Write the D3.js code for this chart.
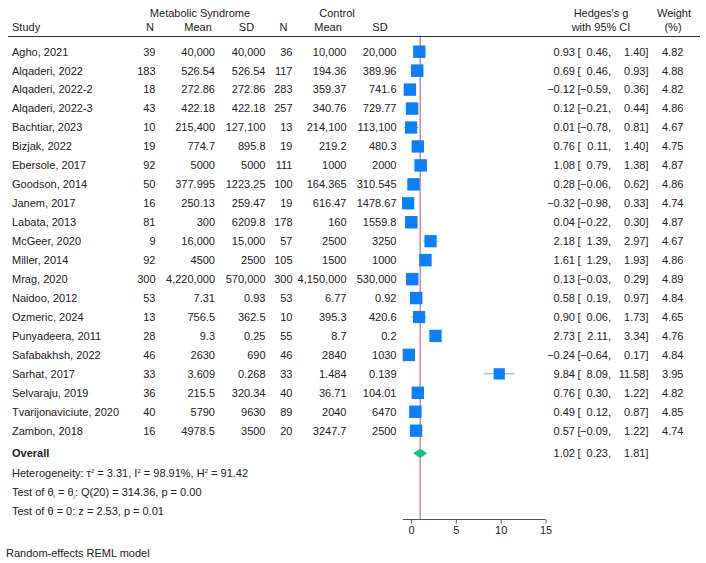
<!DOCTYPE html>
<html>
<head>
<meta charset="utf-8">
<script src="https://cdn.jsdelivr.net/npm/d3@7"></script>
<style>
  body { margin: 0; background: #fff; }
  svg text { font-family: "Liberation Sans", Arial, sans-serif; font-size: 11px; fill: #222; }
</style>
</head>
<body>
<div id="chart"></div>
<script>
// data
var studies = ["Agho, 2021", "Alqaderi, 2022", "Alqaderi, 2022-2", "Alqaderi, 2022-3", "Bachtiar, 2023",
  "Bizjak, 2022", "Ebersole, 2017", "Goodson, 2014", "Janem, 2017", "Labata, 2013", "McGeer, 2020",
  "Miller, 2014", "Mrag, 2020", "Naidoo, 2012", "Ozmeric, 2024", "Punyadeera, 2011", "Safabakhsh, 2022",
  "Sarhat, 2017", "Selvaraju, 2019", "Tvarijonaviciute, 2020", "Zambon, 2018"];
var msN = ["39", "183", "18", "43", "10", "19", "92", "50", "16", "81", "9", "92", "300", "53", "13", "28", "46", "33", "36", "40", "16"];
var msMean = ["40,000", "526.54", "272.86", "422.18", "215,400", "774.7", "5000", "377.995", "250.13", "300", "16,000",
  "4500", "4,220,000", "7.31", "756.5", "9.3", "2630", "3.609", "215.5", "5790", "4978.5"];
var msSD = ["40,000", "526.54", "272.86", "422.18", "127,100", "895.8", "5000", "1223.25", "259.47", "6209.8", "15,000",
  "2500", "570,000", "0.93", "362.5", "0.25", "690", "0.268", "320.34", "9630", "3500"];
var ctN = ["36", "117", "283", "257", "13", "19", "111", "100", "19", "178", "57", "105", "300", "53", "10", "55", "46", "33", "40", "89", "20"];
var ctMean = ["10,000", "194.36", "359.37", "340.76", "214,100", "219.2", "1000", "164.365", "616.47", "160", "2500",
  "1500", "4,150,000", "6.77", "395.3", "8.7", "2840", "1.484", "36.71", "2040", "3247.7"];
var ctSD = ["20,000", "389.96", "741.6", "729.77", "113,100", "480.3", "2000", "310.545", "1478.67", "1559.8", "3250",
  "1000", "530,000", "0.92", "420.6", "0.2", "1030", "0.139", "104.01", "6470", "2500"];
var hedges = [0.93, 0.69, -0.12, 0.12, 0.01, 0.76, 1.08, 0.28, -0.32, 0.04, 2.18, 1.61, 0.13, 0.58, 0.90, 2.73, -0.24, 9.84, 0.76, 0.49, 0.57];
var lower = [0.46, 0.46, -0.59, -0.21, -0.78, 0.11, 0.79, -0.06, -0.98, -0.22, 1.39, 1.29, -0.03, 0.19, 0.06, 2.11, -0.64, 8.09, 0.30, 0.12, -0.09];
var upper = [1.40, 0.93, 0.36, 0.44, 0.81, 1.40, 1.38, 0.62, 0.33, 0.30, 2.97, 1.93, 0.29, 0.97, 1.73, 3.34, 0.17, 11.58, 1.22, 0.87, 1.22];
var weights = [4.82, 4.88, 4.82, 4.86, 4.67, 4.75, 4.87, 4.86, 4.74, 4.87, 4.67, 4.86, 4.89, 4.84, 4.65, 4.76, 4.84, 3.95, 4.82, 4.85, 4.74];
var overall = {g: 1.02, lo: 0.23, hi: 1.81};
var xTicks = [0, 5, 10, 15];

var width = 706, height = 563;
var fmt = d3.format(".2f");
function num(v){ return fmt(v).replace("-", "\u2212"); }

var svg = d3.select("#chart").append("svg")
    .attr("width", width)
    .attr("height", height);

var x = d3.scaleLinear().domain([0, 15]).range([411, 545.5]);
var y = d3.scaleLinear().domain([0, studies.length - 1]).range([51.7, 430.7]);
var yOverall = 453.3;
var axisY = 519.5;
var sizeScale = d3.scaleSqrt().domain([0, d3.max(weights)]).range([0, 12.5]);

// header
var head = svg.append("g");
head.append("text").attr("x", 200).attr("y", 13).attr("dy", ".35em").attr("text-anchor", "middle").text("Metabolic Syndrome");
head.append("text").attr("x", 337).attr("y", 13).attr("dy", ".35em").attr("text-anchor", "middle").text("Control");
head.append("text").attr("x", 601).attr("y", 13).attr("dy", ".35em").attr("text-anchor", "middle").text("Hedges's g");
head.append("text").attr("x", 674).attr("y", 13).attr("dy", ".35em").attr("text-anchor", "middle").text("Weight");
head.append("text").attr("x", 12).attr("y", 27).attr("dy", ".35em").text("Study");
var colHeads = [["N", 150], ["Mean", 198], ["SD", 246.5], ["N", 283.5], ["Mean", 328], ["SD", 380],
  ["with 95% CI", 601], ["(%)", 673]];
head.selectAll("text.col")
    .data(colHeads)
    .enter()
    .append("text")
    .attr("class", "col")
    .attr("x", d => d[1]).attr("y", 27).attr("dy", ".35em")
    .attr("text-anchor", "middle")
    .text(d => d[0]);
svg.append("line")
    .attr("x1", 8).attr("x2", 700)
    .attr("y1", 36.5).attr("y2", 36.5)
    .style("stroke", "#333").style("stroke-width", 1);

// table columns (right aligned)
var cols = [[msN, 155.5], [msMean, 215], [msSD, 265.5], [ctN, 292.5], [ctMean, 346.5], [ctSD, 396.5]];
var rows = svg.append("g");
rows.selectAll("text.study")
    .data(studies)
    .enter()
    .append("text")
    .attr("class", "study")
    .attr("x", 12).attr("y", (d, i) => y(i)).attr("dy", ".35em")
    .text(d => d);
cols.forEach(function(c){
    rows.append("g").selectAll("text")
        .data(c[0])
        .enter()
        .append("text")
        .attr("x", c[1]).attr("y", (d, i) => y(i)).attr("dy", ".35em")
        .attr("text-anchor", "end")
        .text(d => d);
});

// effect size text
function ciText(g, yy, est, lo, hi){
    g.append("text").attr("x", 575).attr("y", yy).attr("dy", ".35em").attr("text-anchor", "end").text(num(est));
    g.append("text").attr("x", 577.5).attr("y", yy).attr("dy", ".35em").text("[");
    g.append("text").attr("x", 611).attr("y", yy).attr("dy", ".35em").attr("text-anchor", "end").text(num(lo) + ",");
    g.append("text").attr("x", 648.5).attr("y", yy).attr("dy", ".35em").attr("text-anchor", "end").text(num(hi) + "]");
}
var ci = svg.append("g");
hedges.forEach(function(v, i){ ciText(ci, y(i), v, lower[i], upper[i]); });
ci.selectAll("text.w")
    .data(weights)
    .enter()
    .append("text")
    .attr("class", "w")
    .attr("x", 683.5).attr("y", (d, i) => y(i)).attr("dy", ".35em")
    .attr("text-anchor", "end")
    .text(d => fmt(d));
ciText(ci, yOverall, overall.g, overall.lo, overall.hi);

// overall effect reference line
svg.append("line")
    .attr("x1", x(overall.g)).attr("x2", x(overall.g))
    .attr("y1", 37).attr("y2", axisY)
    .style("stroke", "#d2456f").style("stroke-width", 1);

// CI lines and squares
var plot = svg.append("g");
plot.selectAll("line.ci")
    .data(hedges)
    .enter()
    .append("line")
    .attr("class", "ci")
    .attr("x1", (d, i) => x(lower[i])).attr("x2", (d, i) => x(upper[i]))
    .attr("y1", (d, i) => y(i)).attr("y2", (d, i) => y(i))
    .style("stroke", "#5fb0ff").style("stroke-width", 1);
plot.selectAll("rect")
    .data(hedges)
    .enter()
    .append("rect")
    .attr("x", (d, i) => x(d) - sizeScale(weights[i]) / 2)
    .attr("y", (d, i) => y(i) - sizeScale(weights[i]) / 2)
    .attr("width", (d, i) => sizeScale(weights[i]))
    .attr("height", (d, i) => sizeScale(weights[i]))
    .style("fill", "#0a80ff");

// overall diamond
var dh = 4.6;
plot.append("path")
    .attr("d", "M" + x(overall.lo) + "," + yOverall +
        "L" + x(overall.g) + "," + (yOverall - dh) +
        "L" + x(overall.hi) + "," + yOverall +
        "L" + x(overall.g) + "," + (yOverall + dh) + "Z")
    .style("fill", "#14c08c");

// axis
var axis = svg.append("g")
    .attr("transform", "translate(0," + axisY + ")")
    .call(d3.axisBottom(x).tickValues(xTicks).tickSize(4).tickSizeOuter(0).tickPadding(3));
axis.select(".domain").remove();
axis.selectAll(".tick line").style("stroke", "#555");
axis.selectAll(".tick text").style("font-size", "11px").style("font-family", "'Liberation Sans', Arial, sans-serif").style("fill", "#222");
axis.append("line")
    .attr("x1", x(d3.min(lower)) + 0.5).attr("x2", x(15))
    .style("stroke", "#555").style("stroke-width", 1);

// overall label and stats
svg.append("text").attr("x", 12).attr("y", yOverall).attr("dy", ".35em")
    .style("font-weight", "bold").text("Overall");

var t1 = svg.append("text").attr("x", 12).attr("y", 473.3).attr("dy", ".35em");
t1.append("tspan").text("Heterogeneity: \u03c4");
t1.append("tspan").attr("dy", "-4").style("font-size", "6px").text("2");
t1.append("tspan").attr("dy", "4").text(" = 3.31, I");
t1.append("tspan").attr("dy", "-4").style("font-size", "6px").text("2");
t1.append("tspan").attr("dy", "4").text(" = 98.91%, H");
t1.append("tspan").attr("dy", "-4").style("font-size", "6px").text("2");
t1.append("tspan").attr("dy", "4").text(" = 91.42");

var t2 = svg.append("text").attr("x", 12).attr("y", 491.7).attr("dy", ".35em");
t2.append("tspan").text("Test of \u03b8");
t2.append("tspan").attr("dy", "2").style("font-size", "6px").text("i");
t2.append("tspan").attr("dy", "-2").text(" = \u03b8");
t2.append("tspan").attr("dy", "2").style("font-size", "6px").text("j");
t2.append("tspan").attr("dy", "-2").text(": Q(20) = 314.36, p = 0.00");

svg.append("text").attr("x", 12).attr("y", 510.7).attr("dy", ".35em")
    .text("Test of \u03b8 = 0: z = 2.53, p = 0.01");

svg.append("text").attr("x", 6).attr("y", 553).attr("dy", ".35em")
    .text("Random-effects REML model");
</script>
</body>
</html>
